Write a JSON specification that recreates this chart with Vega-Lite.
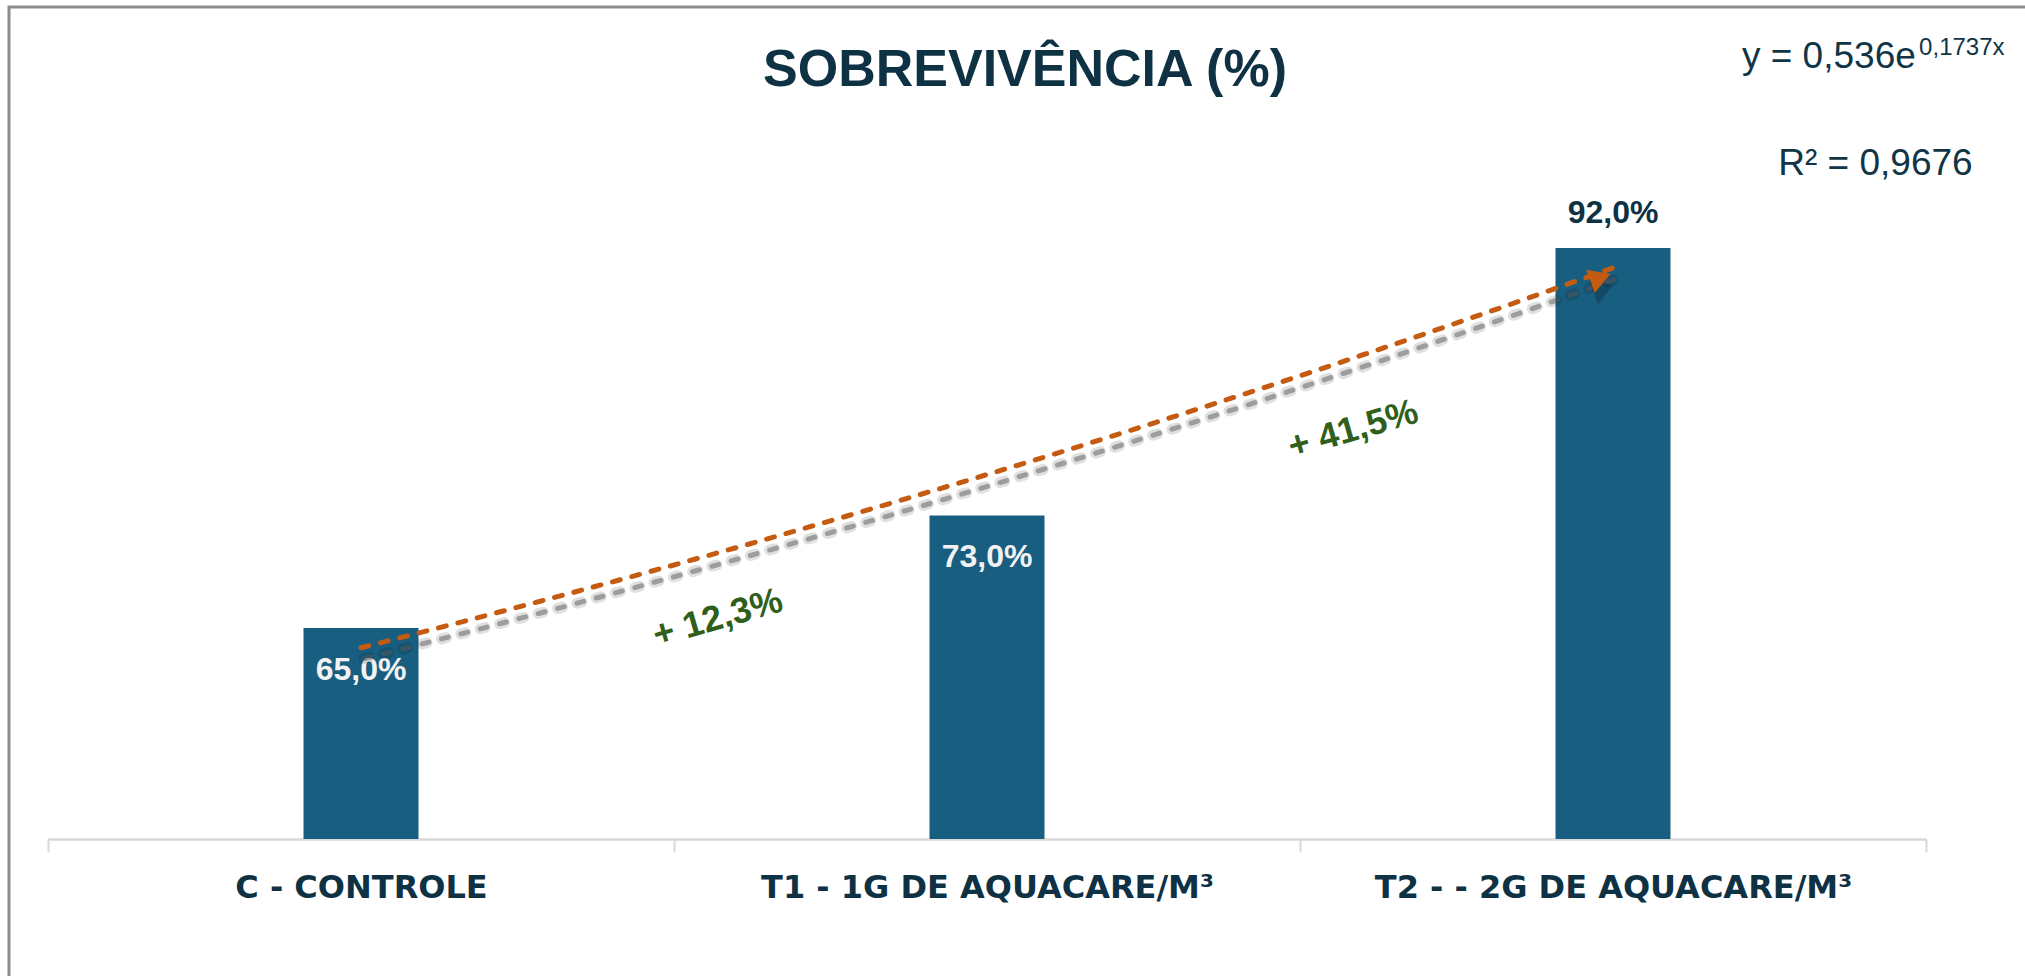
{
  "$schema": "https://vega.github.io/schema/vega-lite/v6.json",
  "width": 2016,
  "height": 969,
  "autosize": {"type": "none"},
  "padding": {"left": 9, "top": 7, "right": 0, "bottom": 0},
  "background": "white",
  "title": {
    "text": "SOBREVIVÊNCIA (%)",
    "font": "Liberation Sans",
    "fontSize": 52,
    "fontWeight": "bold",
    "color": "#0E3244",
    "anchor": "middle",
    "baseline": "alphabetic",
    "offset": -131,
    "dx": 8
  },
  "data": {
    "values": [
      {"cat": "C - CONTROLE", "idx": 1, "value": 0.65},
      {"cat": "T1 - 1G DE AQUACARE/M³", "idx": 2, "value": 0.73},
      {"cat": "T2 - - 2G DE AQUACARE/M³", "idx": 3, "value": 0.92}
    ]
  },
  "resolve": {"scale": {"x": "independent"}, "axis": {"x": "independent"}},
  "layer": [
    {
      "layer": [
        {
          "mark": {"type": "bar", "color": "#185E80", "width": {"band": 0.1837}},
          "encoding": {
            "x": {
              "field": "cat",
              "type": "nominal",
              "sort": null,
              "scale": {"range": [39, 1917], "paddingInner": 0, "paddingOuter": 0},
              "axis": {
                "title": null,
                "orient": "bottom",
                "offset": -137,
                "labelAngle": 0,
                "labelFont": "DejaVu Sans",
                "labelFontWeight": "bold",
                "labelFontSize": 32,
                "labelColor": "#0E3244",
                "labelPadding": 20,
                "labelLimit": 1000,
                "labelOverlap": false,
                "tickBand": "extent",
                "tickSize": 13,
                "tickColor": "#D9D9D9",
                "tickWidth": 2,
                "domainColor": "#D9D9D9",
                "domainWidth": 2.5,
                "grid": false
              }
            },
            "y": {
              "field": "value",
              "type": "quantitative",
              "scale": {"domain": [0.5, 1], "range": [832, 128.5], "nice": false, "zero": false},
              "axis": null
            },
            "y2": {"datum": 0.5}
          }
        },
        {
          "transform": [{"filter": "datum.value < 0.9"}],
          "mark": {"type": "text", "color": "#F2F2F2", "font": "Liberation Sans", "fontSize": 32, "fontWeight": "bold", "baseline": "alphabetic", "align": "center", "dy": 52},
          "encoding": {
            "x": {"field": "cat", "type": "nominal", "sort": null},
            "y": {"field": "value", "type": "quantitative"},
            "text": {"field": "value", "type": "quantitative", "format": ".1%"}
          }
        },
        {
          "transform": [{"filter": "datum.value >= 0.9"}],
          "mark": {"type": "text", "color": "#0E3244", "font": "Liberation Sans", "fontSize": 32, "fontWeight": "bold", "baseline": "alphabetic", "align": "center", "dy": -25},
          "encoding": {
            "x": {"field": "cat", "type": "nominal", "sort": null},
            "y": {"field": "value", "type": "quantitative"},
            "text": {"field": "value", "type": "quantitative", "format": ".1%"}
          }
        }
      ]
    },
    {
      "layer": [
        {
          "transform": [{"regression": "value", "on": "idx", "method": "exp", "extent": [1, 3]}],
          "mark": {"type": "line", "stroke": "#000000", "strokeWidth": 11, "opacity": 0.12, "strokeDash": [5, 15], "strokeCap": "round", "xOffset": 3, "yOffset": 11},
          "encoding": {
            "x": {"field": "idx", "type": "quantitative", "scale": {"domain": [0.5, 3.5], "range": [39, 1917], "nice": false, "zero": false}, "axis": null},
            "y": {"field": "value", "type": "quantitative"}
          }
        },
        {
          "transform": [{"regression": "value", "on": "idx", "method": "exp", "extent": [1, 3]}],
          "mark": {"type": "line", "stroke": "#595959", "strokeWidth": 5, "opacity": 0.5, "strokeDash": [7, 13], "strokeCap": "round", "xOffset": 3, "yOffset": 11},
          "encoding": {
            "x": {"field": "idx", "type": "quantitative"},
            "y": {"field": "value", "type": "quantitative"}
          }
        },
        {
          "transform": [{"regression": "value", "on": "idx", "method": "exp", "extent": [1, 3]}],
          "mark": {"type": "line", "stroke": "#C55A11", "strokeWidth": 5, "strokeDash": [8, 12], "strokeCap": "round"},
          "encoding": {
            "x": {"field": "idx", "type": "quantitative"},
            "y": {"field": "value", "type": "quantitative"}
          }
        },
        {
          "data": {"values": [{"part": "arrow shadow"}]},
          "mark": {"type": "point", "shape": "triangle-right", "filled": true, "color": "#000000", "opacity": 0.2, "size": 600, "angle": -20, "xOffset": 3, "yOffset": 11},
          "encoding": {"x": {"datum": 2.98}, "y": {"datum": 0.8989}}
        },
        {
          "data": {"values": [{"part": "arrow"}]},
          "mark": {"type": "point", "shape": "triangle-right", "filled": true, "color": "#C55A11", "opacity": 1, "size": 600, "angle": -20},
          "encoding": {"x": {"datum": 2.98}, "y": {"datum": 0.8989}}
        },
        {
          "data": {"values": [{"label": "+ 12,3%"}]},
          "mark": {"type": "text", "font": "Liberation Sans", "fontSize": 36, "fontWeight": "bold", "color": "#2F5F1B", "angle": -16, "align": "center", "baseline": "middle"},
          "encoding": {"x": {"datum": 1.57}, "y": {"datum": 0.657}, "text": {"field": "label"}}
        },
        {
          "data": {"values": [{"label": "+ 41,5%"}]},
          "mark": {"type": "text", "font": "Liberation Sans", "fontSize": 36, "fontWeight": "bold", "color": "#2F5F1B", "angle": -16, "align": "center", "baseline": "middle"},
          "encoding": {"x": {"datum": 2.585}, "y": {"datum": 0.791}, "text": {"field": "label"}}
        },
        {
          "data": {"values": [{"label": "y = 0,536e"}]},
          "mark": {"type": "text", "font": "Liberation Sans", "fontSize": 37, "color": "#123447", "align": "left", "baseline": "alphabetic"},
          "encoding": {"x": {"datum": 3.206}, "y": {"datum": 1.048}, "text": {"field": "label"}}
        },
        {
          "data": {"values": [{"label": "0,1737x"}]},
          "mark": {"type": "text", "font": "Liberation Sans", "fontSize": 24, "color": "#123447", "align": "left", "baseline": "alphabetic"},
          "encoding": {"x": {"datum": 3.489}, "y": {"datum": 1.057}, "text": {"field": "label"}}
        },
        {
          "data": {"values": [{"label": "R² = 0,9676"}]},
          "mark": {"type": "text", "font": "Liberation Sans", "fontSize": 37, "color": "#123447", "align": "left", "baseline": "alphabetic"},
          "encoding": {"x": {"datum": 3.264}, "y": {"datum": 0.972}, "text": {"field": "label"}}
        }
      ]
    }
  ],
  "config": {
    "locale": {"number": {"decimal": ",", "thousands": ".", "grouping": [3], "currency": ["R$ ", ""]}},
    "view": {"stroke": "#8C8C8C", "strokeWidth": 3, "strokeDash": [2016, 2985, 969, 1]}
  }
}
